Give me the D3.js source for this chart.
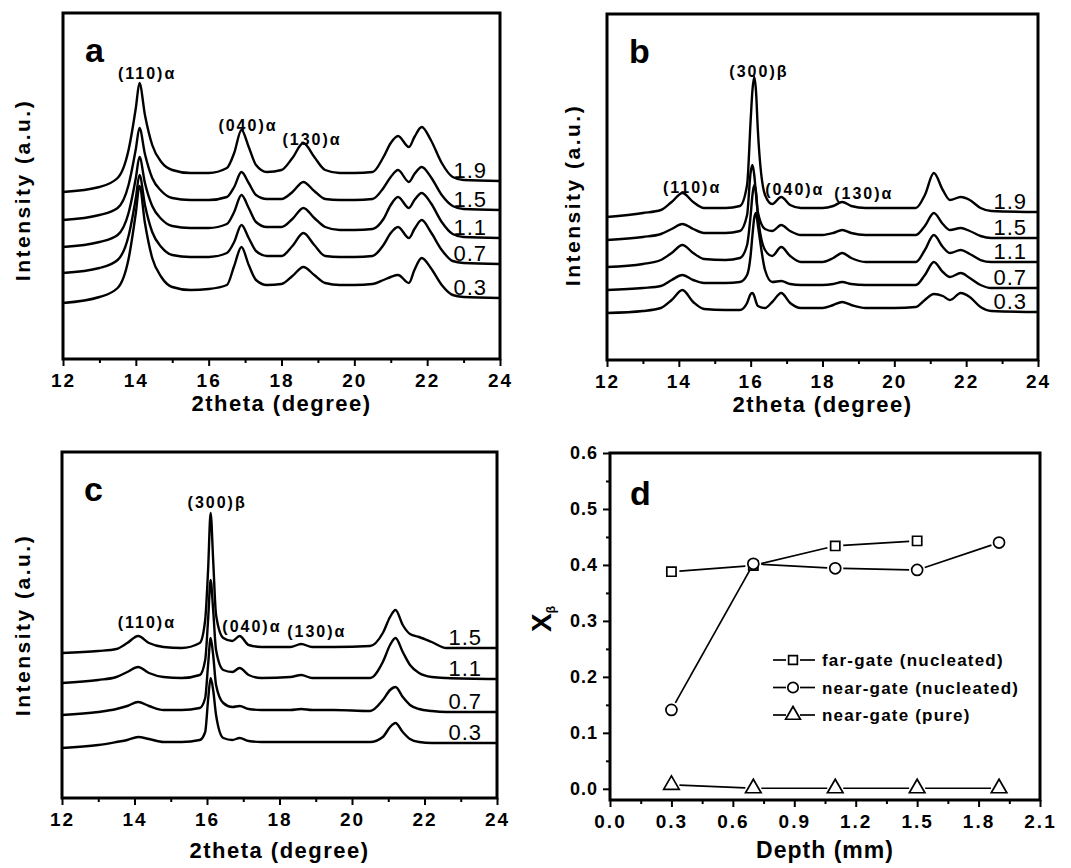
<!DOCTYPE html>
<html lang="en">
<head>
<meta charset="UTF-8">
<title>XRD depth profiles</title>
<script src="https://cdn.jsdelivr.net/npm/d3@7"></script>
<style>
  body { margin: 0; background: #fff; }
  svg { display: block; font-family: "Liberation Sans", Arial, Helvetica, sans-serif; }
</style>
</head>
<body>
<div id="box"></div>
<script>
// ---------- data ----------
var thetaTicks = [12, 14, 16, 18, 20, 22, 24];
var thetaMinor = [13, 15, 17, 19, 21, 23];
var depthsAB = ["1.9", "1.5", "1.1", "0.7", "0.3"];
var depthsC = ["1.5", "1.1", "0.7", "0.3"];
var intensityMax = 346; // a.u., top of each XRD frame

// panel a: nucleated, far-gate
var thetaA = [12, 13, 13.5, 13.8, 14.0, 14.1, 14.25, 14.45, 14.7, 15.0, 15.5, 16.0, 16.5, 16.7, 16.9, 17.1, 17.3, 17.6,
  18.0, 18.3, 18.6, 18.9, 19.2, 19.6, 20.0, 20.5, 20.8, 21.0, 21.2, 21.5, 21.65, 21.85, 22.1, 22.4, 22.7, 23.0, 24];
var a19 = [167,172,181,209,251,276,244,214,197,189,186,186,191,206,229,212,194,187,189,201,216,202,189,186,186,187,202,216,223,212,222,232,219,196,182,179,178];
var a15 = [139,144,151,174,210,231,205,181,168,161,159,159,162,172,187,176,164,160,160,167,177,168,160,159,159,160,171,182,189,177,185,192,182,164,153,150,149];
var a11 = [112,117,124,146,181,202,176,153,140,133,131,131,135,147,164,151,137,132,132,140,151,141,132,129,129,130,140,154,162,151,159,166,156,137,125,122,121];
var a07 = [86,91,99,123,161,184,154,127,112,104,102,102,106,117,134,121,108,103,103,113,126,114,103,102,102,103,114,126,132,121,130,139,127,109,98,96,95];
var a03 = [56,62,71,100,146,173,136,101,82,72,69,70,74,93,112,94,79,74,75,83,92,84,76,74,74,75,79,82,84,76,89,101,91,74,64,62,61];

// panel b: nucleated, near-gate
var thetaB = [12, 13, 13.5, 13.8, 14.1, 14.4, 14.7, 15.3, 15.7, 15.9, 16.0, 16.05, 16.1, 16.15, 16.2, 16.4, 16.6, 16.85,
  17.1, 17.4, 18.0, 18.3, 18.55, 18.8, 19.2, 20.0, 20.6, 20.85, 21.1, 21.35, 21.55, 21.85, 22.1, 22.4, 22.7, 24];
var b19 = [143,147,150,158,167,158,152,152,154,175,240,270,283,268,230,165,156,163,155,152,152,154,158,154,152,152,152,165,187,170,160,163,160,152,149,148];
var b15 = [120,123,126,131,136,131,127,127,129,145,188,195,185,165,148,131,129,135,129,125,125,127,130,127,125,125,125,134,147,136,130,132,129,124,122,122];
var b11 = [93,96,100,107,115,107,101,100,102,115,145,165,175,168,145,110,104,113,104,98,98,102,107,102,98,98,98,110,125,113,107,110,106,100,98,98];
var b07 = [70,72,74,80,85,80,77,77,78,85,105,125,142,147,135,90,78,79,76,75,75,76,78,76,75,75,75,85,98,88,83,87,82,75,72,72];
var b03 = [47,49,52,60,70,58,51,50,50,57,66,67,64,58,54,52,58,67,57,52,52,55,58,55,52,52,53,60,66,64,60,67,63,53,49,48];

// panel c: pure, near-gate
var thetaC = [12, 13, 13.5, 13.8, 14.1, 14.4, 14.8, 15.3, 15.8, 15.95, 16.03, 16.1, 16.17, 16.25, 16.45, 16.7, 16.9,
  17.15, 17.5, 18.3, 18.6, 18.9, 19.5, 20.5, 20.85, 21.05, 21.2, 21.4, 21.6, 21.85, 22.2, 22.6, 24];
var c15 = [145,147,149,155,162,155,151,150,155,178,228,285,238,183,160,157,162,153,151,151,154,151,151,152,165,181,188,173,164,161,156,150,150];
var c11 = [115,118,121,126,131,125,121,120,123,138,178,218,188,148,128,126,130,123,120,121,123,120,120,120,136,153,160,146,133,125,121,120,119];
var c07 = [83,86,89,92,96,92,88,88,90,100,133,160,143,113,95,91,92,89,88,88,89,88,88,87,98,108,111,101,93,89,87,86,86];
var c03 = [50,53,56,58,61,59,56,56,58,66,98,120,108,83,60,58,60,57,56,56,56,56,56,56,61,71,75,66,59,56,55,55,55];

var peakNamesAlpha = ["(110)α", "(040)α", "(130)α"];
var peakNameBeta = "(300)β";

// panel d: beta fraction vs depth
var depthD = [0.3, 0.7, 1.1, 1.5, 1.9];
var farGateNucleated = [0.388, 0.399, 0.434, 0.443];
var nearGateNucleated = [0.141, 0.402, 0.394, 0.391, 0.440];
var nearGatePure = [0.007, 0.001, 0.001, 0.001, 0.001];
var seriesNames = ["far-gate (nucleated)", "near-gate (nucleated)", "near-gate (pure)"];
var depthTicks = [0.0, 0.3, 0.6, 0.9, 1.2, 1.5, 1.8, 2.1];
var depthMinor = [0.15, 0.45, 0.75, 1.05, 1.35, 1.65, 1.95];
var xbTicks = [0.0, 0.1, 0.2, 0.3, 0.4, 0.5, 0.6];
var xbMinor = [0.05, 0.15, 0.25, 0.35, 0.45, 0.55];

// ---------- drawing ----------
var W = 1071, H = 868;
var svg = d3.select("#box").append("svg").attr("width", W).attr("height", H);
svg.append("rect").attr("width", W).attr("height", H).attr("fill", "#fff");

function bottomAxis(g, x, y0, major, minor, fmt) {
  var ax = g.append("g").attr("transform", "translate(0," + y0 + ")")
    .call(d3.axisBottom(x).tickValues(major).tickSize(7).tickPadding(8).tickFormat(fmt));
  ax.append("g").call(d3.axisBottom(x).tickValues(minor).tickSize(4).tickFormat(""));
  ax.selectAll(".domain").remove();
  ax.selectAll("line").attr("stroke", "#000").attr("stroke-width", 2);
  ax.selectAll("text").attr("fill", "#000").style("font-size", "19px").style("font-weight", "bold")
    .style("letter-spacing", "2px");
  return ax;
}

function frame(g, b) {
  g.append("rect").attr("x", b.x0).attr("y", b.y0).attr("width", b.x1 - b.x0).attr("height", b.y1 - b.y0)
    .attr("fill", "none").attr("stroke", "#000").attr("stroke-width", 3);
}

function xrdPanel(b, theta, traces, depths, peaks, opt) {
  var g = svg.append("g");
  var x = d3.scaleLinear().domain([12, 24]).range([b.x0, b.x1]);
  var y = d3.scaleLinear().domain([0, intensityMax]).range([b.y1, b.y0]);
  var line = d3.line().x(function (d) { return x(d[0]); }).y(function (d) { return y(d[1]); })
    .curve(d3.curveMonotoneX);

  traces.forEach(function (vals, i) {
    var pts = theta.map(function (t, k) { return [t, vals[k]]; });
    g.append("path").datum(pts).attr("d", line).attr("fill", "none")
      .attr("stroke", "#000").attr("stroke-width", 2.4).attr("stroke-linejoin", "round");
    g.append("text").attr("x", b.x1 - opt.numInset).attr("y", y(vals[vals.length - 1]) - 3)
      .attr("text-anchor", "end").style("font-size", "22px").style("letter-spacing", "1px")
      .text(depths[i]);
  });

  peaks.forEach(function (p) {
    g.append("text").attr("x", x(p[1])).attr("y", y(p[2])).attr("text-anchor", "middle")
      .style("font-size", "16px").style("font-weight", "bold").style("letter-spacing", "2px").text(p[0]);
  });

  frame(g, b);
  bottomAxis(g, x, b.y1, thetaTicks, thetaMinor, d3.format("d"));

  g.append("text").attr("x", (b.x0 + b.x1) / 2).attr("y", opt.xTitleY).attr("text-anchor", "middle")
    .style("font-size", "22px").style("font-weight", "bold").style("letter-spacing", "1.5px")
    .text("2theta (degree)");
  g.append("text").attr("transform", "translate(" + opt.yTitleX + "," + opt.yTitleC + ") rotate(-90)")
    .attr("text-anchor", "middle").style("font-size", "21px").style("font-weight", "bold")
    .style("letter-spacing", "2.5px").text("Intensity (a.u.)");
  g.append("text").attr("x", b.x0 + 22).attr("y", b.y0 + 49).style("font-size", "34px")
    .style("font-weight", "bold").text(opt.letter);
}

xrdPanel({ x0: 63, x1: 500, y0: 13, y1: 359 }, thetaA, [a19, a15, a11, a07, a03], depthsAB,
  [[peakNamesAlpha[0], 14.31, 280], [peakNamesAlpha[1], 17.08, 228], [peakNamesAlpha[2], 18.84, 214]],
  { numInset: 13, xTitleY: 411, yTitleX: 30, yTitleC: 190, letter: "a" });

xrdPanel({ x0: 607, x1: 1038, y0: 14, y1: 360 }, thetaB, [b19, b15, b11, b07, b03], depthsAB,
  [[peakNameBeta, 16.23, 283], [peakNamesAlpha[0], 14.37, 167], [peakNamesAlpha[1], 17.23, 165], [peakNamesAlpha[2], 19.15, 161]],
  { numInset: 11, xTitleY: 412, yTitleX: 580, yTitleC: 195, letter: "b" });

xrdPanel({ x0: 62, x1: 497, y0: 452, y1: 798 }, thetaC, [c15, c11, c07, c03], depthsC,
  [[peakNameBeta, 16.28, 290], [peakNamesAlpha[0], 14.34, 170], [peakNamesAlpha[1], 17.24, 166], [peakNamesAlpha[2], 19.03, 161]],
  { numInset: 15, xTitleY: 858, yTitleX: 30, yTitleC: 625, letter: "c" });

// ---- panel d ----
(function () {
  var b = { x0: 610, x1: 1040, y0: 453, y1: 800 };
  var g = svg.append("g");
  var x = d3.scaleLinear().domain([0, 2.1]).range([b.x0, b.x1]);
  var y = d3.scaleLinear().domain([-0.02, 0.6]).range([b.y1, b.y0]);

  var series = [
    { vals: farGateNucleated, sym: d3.symbolSquare, size: 85 },
    { vals: nearGateNucleated, sym: d3.symbolCircle, size: 95 },
    { vals: nearGatePure, sym: d3.symbolTriangle, size: 105 }
  ];
  var gap = 8;

  series.forEach(function (s) {
    var pts = s.vals.map(function (v, i) { return [x(depthD[i]), y(v)]; });
    for (var i = 0; i < pts.length - 1; i++) {
      var dx = pts[i + 1][0] - pts[i][0], dy = pts[i + 1][1] - pts[i][1], L = Math.hypot(dx, dy);
      g.append("line")
        .attr("x1", pts[i][0] + dx / L * gap).attr("y1", pts[i][1] + dy / L * gap)
        .attr("x2", pts[i + 1][0] - dx / L * gap).attr("y2", pts[i + 1][1] - dy / L * gap)
        .attr("stroke", "#000").attr("stroke-width", 1.7);
    }
    g.selectAll(null).data(pts).enter().append("path")
      .attr("transform", function (d) { return "translate(" + d[0] + "," + d[1] + ")"; })
      .attr("d", d3.symbol().type(s.sym).size(s.size))
      .attr("fill", "#fff").attr("stroke", "#000").attr("stroke-width", 1.7);
  });

  // legend
  series.forEach(function (s, i) {
    var ly = 660 + i * 27.5, cx = 793;
    g.append("line").attr("x1", 773).attr("x2", 786).attr("y1", ly).attr("y2", ly).attr("stroke", "#000").attr("stroke-width", 1.7);
    g.append("line").attr("x1", 800).attr("x2", 815).attr("y1", ly).attr("y2", ly).attr("stroke", "#000").attr("stroke-width", 1.7);
    g.append("path").attr("transform", "translate(" + cx + "," + ly + ")")
      .attr("d", d3.symbol().type(s.sym).size(s.size * 0.9))
      .attr("fill", "#fff").attr("stroke", "#000").attr("stroke-width", 1.7);
    g.append("text").attr("x", 822).attr("y", ly + 6).style("font-size", "17px").style("font-weight", "bold")
      .style("letter-spacing", "1.2px").text(seriesNames[i]);
  });

  frame(g, b);
  bottomAxis(g, x, b.y1, depthTicks, depthMinor, d3.format(".1f"));

  var la = g.append("g").attr("transform", "translate(" + b.x0 + ",0)")
    .call(d3.axisLeft(y).tickValues(xbTicks).tickSize(7).tickPadding(5).tickFormat(d3.format(".1f")));
  la.append("g").call(d3.axisLeft(y).tickValues(xbMinor).tickSize(4).tickFormat(""));
  la.selectAll(".domain").remove();
  la.selectAll("line").attr("stroke", "#000").attr("stroke-width", 2);
  la.selectAll("text").attr("fill", "#000").style("font-size", "18px").style("font-weight", "bold")
    .style("letter-spacing", "1px");

  g.append("text").attr("x", (b.x0 + b.x1) / 2).attr("y", 858).attr("text-anchor", "middle")
    .style("font-size", "23px").style("font-weight", "bold").style("letter-spacing", "1px").text("Depth (mm)");

  var yl = g.append("text").attr("transform", "translate(551,632) rotate(-90)")
    .style("font-size", "28px").style("font-weight", "bold");
  yl.append("tspan").text("X");
  yl.append("tspan").attr("dy", 4).style("font-size", "12px").text("β");

  g.append("text").attr("x", b.x0 + 20).attr("y", b.y0 + 52).style("font-size", "34px")
    .style("font-weight", "bold").text("d");
})();
</script>
</body>
</html>
